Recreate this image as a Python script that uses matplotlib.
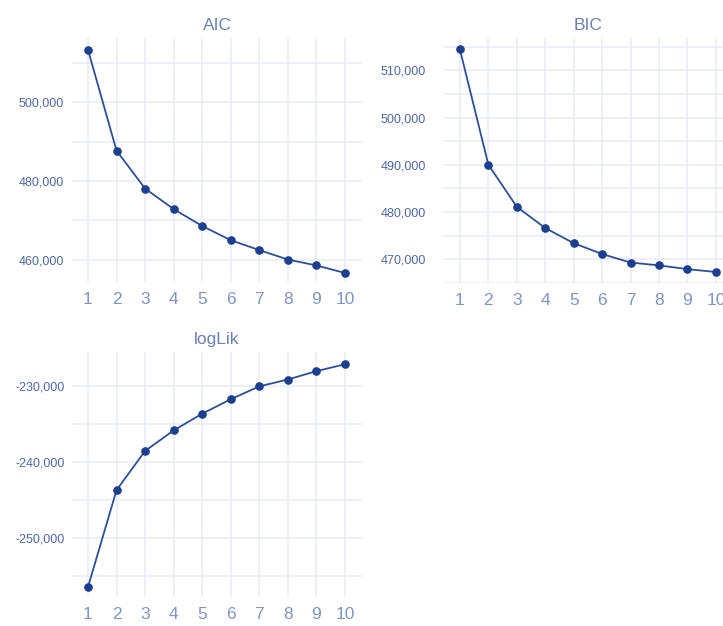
import numpy as np
import matplotlib.pyplot as plt
from matplotlib.ticker import MultipleLocator, FuncFormatter

plt.rcParams['font.family'] = ['Liberation Sans', 'DejaVu Sans']

k = [1, 2, 3, 4, 5, 6, 7, 8, 9, 10]
aic = [513300, 487700, 478100, 472900, 468600, 465000, 462500, 460100, 458600, 456700]
bic = [514400, 490000, 481100, 476600, 473400, 471100, 469300, 468700, 467900, 467300]
loglik = [-256450, -243700, -238550, -235850, -233650, -231750, -230050, -229150, -228050, -227150]

line_col = '#2b4f9e'
dot_col = '#1d3f8f'
grid_col = '#e8ecf6'
ytick_col = '#4d68aa'
xtick_col = '#7f95c6'
title_col = '#6b80b8'

W, H = 723, 626
fig = plt.figure(figsize=(W / 100, H / 100), dpi=100)


def panel(rect, y, title, ylim, major, minor, ypad):
    l, t, r, b = rect
    ax = fig.add_axes([l / W, (H - b) / H, (r - l) / W, (b - t) / H])
    ax.plot(k, y, '-', color=line_col, lw=1.3, zorder=3)
    ax.plot(k, y, 'o', color=dot_col, ms=5.2, zorder=4)
    ax.set_xlim(0.44, 10.6)
    ax.set_ylim(*ylim)
    ax.set_xticks(k)
    ax.yaxis.set_major_locator(MultipleLocator(major))
    ax.yaxis.set_minor_locator(MultipleLocator(minor))
    ax.yaxis.set_major_formatter(FuncFormatter(lambda v, p: f'{int(round(v)):,}'))
    ax.grid(True, which='both', color=grid_col, lw=1.1, zorder=0)
    for s in ax.spines.values():
        s.set_visible(False)
    ax.tick_params(axis='both', which='both', length=0)
    ax.tick_params(axis='x', labelsize=12.5, colors=xtick_col, pad=7)
    ax.tick_params(axis='y', labelsize=9, colors=ytick_col, pad=ypad)
    ax.set_title(title, fontsize=12.5, color=title_col, pad=6)
    return ax


panel((72, 38, 362, 282), aic, 'AIC', (454400, 516270), 20000, 10000, 6)
panel((444, 38, 733, 283), bic, 'BIC', (464970, 516830), 10000, 5000, 13)
panel((72, 352, 362, 597), loglik, 'logLik', (-257760, -225530), 10000, 5000, 5)

fig.savefig('out.png', dpi=100)
